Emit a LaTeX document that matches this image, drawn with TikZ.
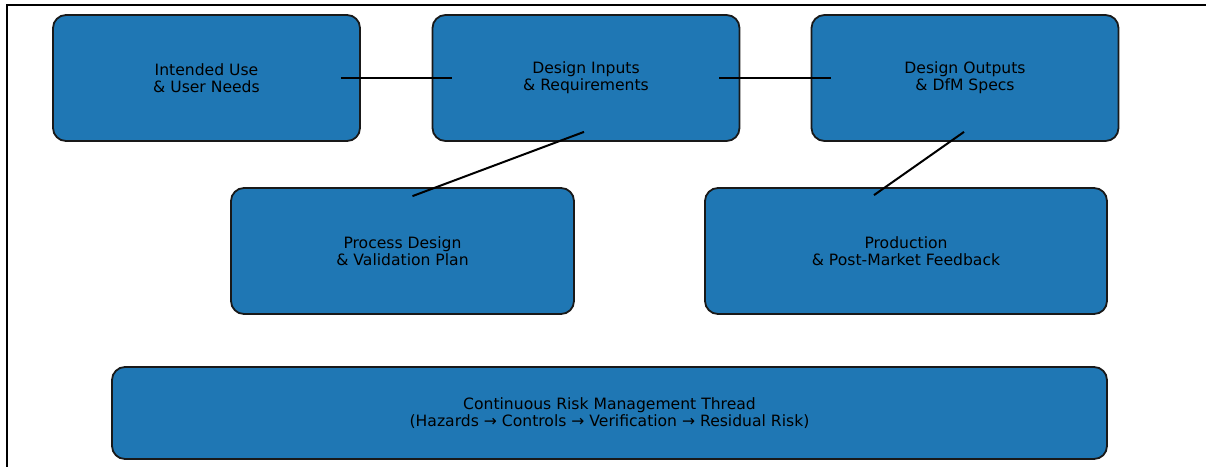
\documentclass[tikz,border=0pt]{standalone}
\usepackage{xcolor}
\usepackage{fontspec}
\setmainfont{DejaVu Sans}
\usepackage{tikz}
\definecolor{boxblue}{RGB}{31,119,180}

\begin{document}
\begin{tikzpicture}[x=1pt, y=-1pt,
		stagebox/.style={draw=black!90, line width=1.8pt, fill=boxblue, rounded corners=13pt, align=center, inner sep=0pt, font=\fontsize{15.6}{17}\selectfont},
		link/.style={line width=2pt, black}]
		\useasboundingbox (0,0) rectangle (1206,466);
		\draw[line width=2pt] (7,470) -- (7,5) -- (1210,5);
		% top row
		\node[stagebox, minimum width=307pt, minimum height=126pt] (intended) at (206.5,78) {Intended Use \\ \& User Needs};
		\node[stagebox, minimum width=307pt, minimum height=126pt] (inputs) at (586,78) {Design Inputs \\ \& Requirements};
		\node[stagebox, minimum width=307pt, minimum height=126pt] (outputs) at (965,78) {Design Outputs \\ \& DfM Specs};
		% middle row
		\node[stagebox, minimum width=343pt, minimum height=126pt] (process) at (402.5,251) {Process Design \\ \& Validation Plan};
		\node[stagebox, minimum width=402pt, minimum height=126pt] (production) at (906,251) {Production \\ \& Post-Market Feedback};
		% risk thread
		\node[stagebox, minimum width=995pt, minimum height=92pt] (risk) at (609.5,413) {Continuous Risk Management Thread \\ (Hazards → Controls → Verification → Residual Risk)};
		% links
		\draw[link] ([xshift=-20pt]intended.east) -- ([xshift=20pt]inputs.west);
		\draw[link] ([xshift=-21pt]inputs.east) -- ([xshift=20pt]outputs.west);
		\draw[link] ([xshift=-2pt, yshift=10pt]inputs.south) -- ([xshift=10pt, yshift=-9pt]process.north);
		\draw[link] ([xshift=-1pt, yshift=10pt]outputs.south) -- ([xshift=-32pt, yshift=-8pt]production.north);
		\end{tikzpicture}
\end{document}
